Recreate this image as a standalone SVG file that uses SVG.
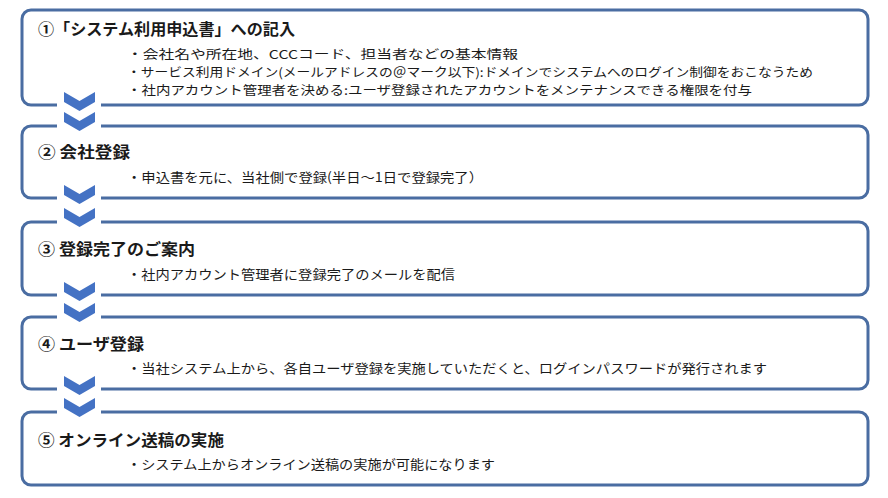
<svg xmlns="http://www.w3.org/2000/svg" xmlns:xlink="http://www.w3.org/1999/xlink" width="888" height="498" viewBox="0 0 888 498">
<style>
.box{fill:#ffffff;stroke:#4a6da2;stroke-width:3}
.gap{fill:#ffffff;stroke:none}
.chev{fill:#4472c4}
.title{font-family:"Noto Sans CJK JP","Noto Sans",sans-serif;font-size:16px;font-weight:700;fill:#1a1a1a}
.item{font-family:"Noto Sans CJK JP","Noto Sans",sans-serif;font-size:13px;fill:#1a1a1a}
.item.tight{font-size:12.4px}
</style>
<defs>
<path id="chevron" class="chev" d="M64,0 L79.5,9 L95,0 L95,10 L79.5,19 L64,10 Z"/>
</defs>
<rect width="888" height="498" fill="#ffffff"/>
<g id="step1">
<rect class="box" x="22" y="10" width="846" height="95" rx="9"/>
<text class="title" x="38" y="35" textLength="257" lengthAdjust="spacingAndGlyphs">①「システム利用申込書」への記入</text>
<text class="item tight" x="127" y="58.5" textLength="391" lengthAdjust="spacingAndGlyphs">・会社名や所在地、CCCコード、担当者などの基本情報</text>
<text class="item tight" x="127" y="76.5" textLength="686" lengthAdjust="spacingAndGlyphs">・サービス利用ドメイン(メールアドレスの＠マーク以下):ドメインでシステムへのログイン制御をおこなうため</text>
<text class="item tight" x="127" y="94.5" textLength="625" lengthAdjust="spacingAndGlyphs">・社内アカウント管理者を決める:ユーザ登録されたアカウントをメンテナンスできる権限を付与</text>
</g>
<g id="step2">
<rect class="box" x="22" y="126" width="846" height="72" rx="9"/>
<text class="title" x="38" y="158" textLength="92" lengthAdjust="spacingAndGlyphs">② 会社登録</text>
<text class="item" x="127" y="182" textLength="356" lengthAdjust="spacingAndGlyphs">・申込書を元に、当社側で登録(半日～1日で登録完了）</text>
</g>
<g id="step3">
<rect class="box" x="22" y="222" width="846" height="73" rx="9"/>
<text class="title" x="38" y="255" textLength="157" lengthAdjust="spacingAndGlyphs">③ 登録完了のご案内</text>
<text class="item" x="127" y="279" textLength="328" lengthAdjust="spacingAndGlyphs">・社内アカウント管理者に登録完了のメールを配信</text>
</g>
<g id="step4">
<rect class="box" x="22" y="317" width="846" height="72" rx="9"/>
<text class="title" x="38" y="350" textLength="106" lengthAdjust="spacingAndGlyphs">④ ユーザ登録</text>
<text class="item" x="127" y="373" textLength="640" lengthAdjust="spacingAndGlyphs">・当社システム上から、各自ユーザ登録を実施していただくと、ログインパスワードが発行されます</text>
</g>
<g id="step5">
<rect class="box" x="22" y="412" width="846" height="73" rx="9"/>
<text class="title" x="38" y="446" textLength="186" lengthAdjust="spacingAndGlyphs">⑤ オンライン送稿の実施</text>
<text class="item" x="127" y="469" textLength="368" lengthAdjust="spacingAndGlyphs">・システム上からオンライン送稿の実施が可能になります</text>
</g>
<g id="connectors">
<rect class="gap" x="57" y="101" width="44" height="29"/>
<use xlink:href="#chevron" href="#chevron" y="92"/>
<use xlink:href="#chevron" href="#chevron" y="112"/>
<rect class="gap" x="57" y="194" width="44" height="32"/>
<use xlink:href="#chevron" href="#chevron" y="185"/>
<use xlink:href="#chevron" href="#chevron" y="208"/>
<rect class="gap" x="57" y="291" width="44" height="30"/>
<use xlink:href="#chevron" href="#chevron" y="282"/>
<use xlink:href="#chevron" href="#chevron" y="303"/>
<rect class="gap" x="57" y="385" width="44" height="31"/>
<use xlink:href="#chevron" href="#chevron" y="376"/>
<use xlink:href="#chevron" href="#chevron" y="398"/>
</g>
</svg>
